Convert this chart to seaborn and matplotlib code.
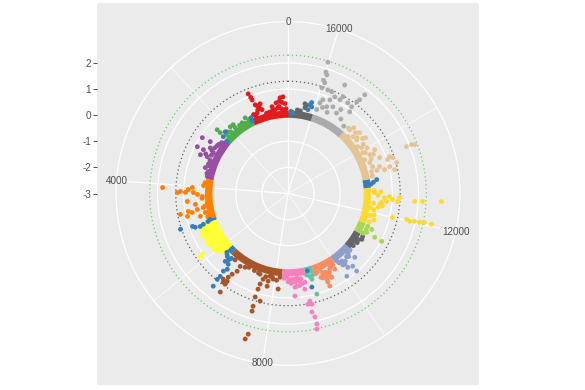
import numpy as np
import pandas as pd
import matplotlib
matplotlib.use("Agg")
import matplotlib.pyplot as plt
import seaborn as sns

# ---- data (position along the circle, score) ----
TOTAL = 16800          # length of the position axis (one full turn)
R_MIN, R_MAX = -3, 2.854
cutoffs = [1.3, 2.3]
theta_major = [0, 4000, 8000, 12000, 16000]
theta_minor = [2000, 6000, 10000, 14000]
r_breaks = [-3, -2, -1, 0, 1, 2]

# segments of the inner ring
seg_group = ["red", "green", "purple", "orange", "blue", "yellow", "blue", "brown", "pink",
             "teal", "salmon", "lightblue", "darkgray", "lightgreen", "gold", "blue", "tan",
             "gray", "darkgray"]
seg_start = [0, 1213, 2333, 3733, 5040, 5133, 6207, 6393, 8213, 8960, 9240, 9987, 10663,
             11247, 11620, 12787, 13067, 14840, 15983]
seg_end = [1213, 2333, 3733, 5040, 5133, 6207, 6393, 8213, 8960, 9240, 9987, 10663, 11247,
           11620, 12787, 13067, 14840, 15983, 16800]

colors = {"red": "#E41A1C", "green": "#4DAF4A", "purple": "#984EA3", "orange": "#FF7F00",
          "blue": "#377EB8", "yellow": "#FFFF33", "brown": "#A65628", "pink": "#F781BF",
          "teal": "#66C2A5", "salmon": "#FC8D62", "lightblue": "#8DA0CB", "darkgray": "#666666",
          "lightgreen": "#A6D854", "gold": "#FFD92F", "tan": "#E5C494", "gray": "#ABABAB"}

red_pos = [140, 222, 90, 350, 275, 486, 803, 807, 947, 980, 1017, 980, 600, 420, 1100, 60,
           990, 900, 860, 930, 260, 180, 320, 200, 1050, 700, 500, 150]
red_val = [0.71, 0.68, 0.45, 0.50, 0.35, 0.38, 0.36, 0.60, 0.62, 0.84, 1.11, 0.30, 0.20, 0.25,
           0.30, 0.25, 0.95, 0.55, 0.45, 0.40, 0.55, 0.50, 0.30, 0.25, 0.22, 0.18, 0.22, 0.20]
green_pos = [2240, 2245, 2077, 1800, 1810, 1540, 1377, 1908, 1650, 1450, 2000, 2150, 1300]
green_val = [0.65, 0.49, 0.32, 0.37, 0.23, 0.23, 0.33, 0.38, 0.20, 0.15, 0.22, 0.25, 0.20]
purple_pos = [2656, 2926, 2921, 3085, 3057, 2861, 3164, 3388, 3481, 3640, 2609, 2627, 2780,
              3250, 3000, 2450, 2550, 2700, 2820, 2960, 3120, 3300, 3550]
purple_val = [0.92, 0.91, 0.65, 0.67, 0.40, 0.26, 0.13, 0.32, 0.17, 0.16, 0.27, 0.58, 0.45,
              0.25, 0.50, 0.20, 0.25, 0.30, 0.35, 0.28, 0.25, 0.22, 0.20]
orange_pos = [4074, 4177, 4149, 4172, 4093, 4032, 4172, 4228, 4293, 4676, 4723, 4667, 4639,
              4713, 4797, 4881, 4803, 4496, 4410, 4513, 3850, 3950, 4350, 4600, 4950]
orange_val = [1.81, 1.24, 1.12, 0.93, 0.82, 0.67, 0.63, 0.47, 0.28, 0.88, 0.74, 0.53, 0.29,
              1.20, 0.95, 0.47, 0.25, 0.11, 0.87, 0.57, 0.20, 0.25, 0.30, 0.22, 0.20]
yellow_pos = [5180, 5220, 5260, 5300, 5340, 5380, 5420, 5460, 5500, 5540, 5580, 5620, 5660,
              5700, 5740, 5780, 5820, 5848, 5880, 5900, 5950, 6000, 6050, 6100, 6150, 5200,
              5350, 5500, 5650, 5800, 5950, 6100, 5260, 5420, 5560, 5700, 5320, 5480, 5600,
              5760, 5860, 5990, 5240, 5400, 5520, 5680, 5830]
yellow_val = [0.30, 0.45, 0.40, 0.55, 0.35, 0.50, 0.45, 0.60, 0.40, 0.55, 0.30, 0.60, 0.50,
              0.40, 0.62, 0.50, 0.35, 1.02, 1.15, 0.55, 0.45, 0.50, 0.30, 0.40, 0.25, 0.15,
              0.20, 0.20, 0.20, 0.15, 0.20, 0.12, 0.60, 0.65, 0.55, 0.45, 0.42, 0.35, 0.45,
              0.30, 0.45, 0.35, 0.25, 0.28, 0.30, 0.28, 0.25]
blue_pos = [1213, 1230, 2123, 2273, 2315, 5087, 5133, 5161, 5133, 5059, 5060, 5100, 6403, 6524,
            6594, 6543, 6566, 6585, 6557, 6250, 6300, 9068, 9053, 13017, 12900, 12950, 16152,
            16082, 16177, 16120, 16650, 16700, 6350, 6450, 6480]
blue_val = [0.23, 0.10, 0.37, 0.30, 0.06, 0.87, 0.78, 0.59, 0.45, 1.34, 0.15, 0.25, 0.54, 0.55,
            0.72, 0.87, 1.10, 1.56, 1.26, 0.25, 0.30, 0.70, 0.05, 0.44, 0.20, 0.30, 0.50, 0.44,
            0.30, 0.60, 0.10, 0.15, 0.35, 0.40, 0.30]
brown_pos = [6846, 6991, 6851, 6781, 6743, 6669, 6781, 6715, 6781, 6790, 7509, 7644, 7602, 7588,
             7830, 7803, 7938, 8125, 7808, 7579, 7723, 7597, 7607, 7663, 7635, 8148, 7100,
             7300, 7450, 7700, 7900, 8050, 6600]
brown_val = [0.34, 0.27, 0.56, 0.76, 0.94, 1.11, 1.09, 1.21, 1.22, 1.58, 0.27, 0.42, 0.63, 0.84,
             0.24, 0.44, 0.33, 0.68, 0.64, 1.16, 1.26, 1.52, 1.71, 2.60, 2.81, 0.22, 0.20,
             0.22, 0.25, 0.30, 0.25, 0.35, 0.25]
pink_pos = [8554, 8657, 8764, 8867, 8937, 8969, 8876, 8932, 8974, 8983, 8960, 8582, 8904, 8450,
            8700, 8820, 8600, 8350, 8500, 8620, 8740, 8800, 8680, 8400, 8280]
pink_val = [0.29, 0.57, 0.39, 0.72, 1.21, 1.34, 1.31, 1.63, 1.84, 2.12, 2.31, 0.94, 0.46, 0.30,
            0.35, 0.50, 0.60, 0.20, 0.45, 0.40, 0.55, 0.30, 0.25, 0.38, 0.25]
teal_pos = [9128, 9147, 9000, 9200, 9100]
teal_val = [0.41, 1.01, 0.20, 0.25, 0.30]
salmon_pos = [9464, 9492, 9539, 9534, 9688, 9530, 9879, 9600, 9750, 9350, 9800, 9400, 9650,
              9300, 9450, 9580, 9700, 9900, 9500]
salmon_val = [0.15, 0.37, 0.60, 0.89, 0.62, 0.72, 0.41, 0.35, 0.30, 0.20, 0.25, 0.45, 0.50,
              0.25, 0.50, 0.45, 0.40, 0.22, 0.30]
lightblue_pos = [10073, 10197, 10213, 10220, 10346, 10337, 10052, 10560, 10400, 10150, 10500,
                 10280, 10450, 10620, 10100]
lightblue_val = [0.20, 0.31, 0.47, 0.64, 0.73, 0.97, 0.89, 0.54, 0.30, 0.45, 0.25, 0.40, 0.35,
                 0.22, 0.30]
darkgray_pos = [11113, 10800, 10950, 11200, 16278, 16250, 16300, 16400, 11050, 16500]
darkgray_val = [0.33, 0.20, 0.25, 0.30, 0.35, 0.45, 0.50, 0.20, 0.22, 0.22]
lightgreen_pos = [11374, 11350, 11336, 11518, 11450, 11300, 11560]
lightgreen_val = [0.36, 0.72, 1.03, 0.49, 0.30, 0.25, 0.30]
gold_pos = [12630, 12281, 12386, 12521, 12446, 12404, 12507, 12432, 12441, 12460, 11998, 12026,
            11998, 12021, 12021, 12040, 12035, 11700, 11800, 11900, 12100, 12200, 12300, 12550,
            12700, 12650, 12150, 11950, 12250, 12350, 12480]
gold_val = [0.32, 0.54, 0.79, 0.89, 1.01, 1.21, 1.28, 1.86, 2.16, 2.89, 1.11, 1.65, 1.78, 1.96,
            2.16, 2.34, 2.62, 0.30, 0.45, 0.25, 0.35, 0.50, 0.30, 0.45, 0.30, 0.55, 0.20, 0.40,
            0.65, 0.60, 0.70]
tan_pos = [13608, 13608, 13585, 13529, 13482, 13478, 13342, 13291, 13188, 13249, 13366, 13281,
           13286, 14800, 14742, 14630, 14523, 14373, 14182, 14089, 13939, 13786, 13711, 13566,
           13851, 13599, 14481, 14266, 14700, 13150, 13420, 13650, 14000, 14150, 14300, 14420,
           14560, 13900, 13750]
tan_val = [1.88, 2.09, 2.20, 1.14, 1.24, 1.03, 1.33, 1.03, 1.19, 0.81, 0.66, 0.52, 0.31, 0.41,
           0.40, 0.16, 0.30, 0.34, 0.22, 0.33, 0.26, 0.47, 0.21, 0.35, 0.72, 0.77, 0.60, 0.66,
           0.56, 0.30, 0.40, 0.45, 0.50, 0.45, 0.55, 0.40, 0.48, 0.35, 0.60]
gray_pos = [16011, 15990, 15955, 15990, 15943, 15971, 15817, 15713, 15592, 15676, 15849, 15895,
            15676, 15522, 15447, 15512, 15419, 15242, 15107, 15078, 15055, 15069, 15032, 14950,
            15150, 15350, 15600, 15780, 15920, 15300]
gray_val = [2.26, 1.87, 1.78, 1.55, 1.47, 1.25, 1.25, 1.24, 1.11, 0.93, 0.83, 0.68, 0.64, 0.74,
            1.10, 1.69, 1.26, 1.16, 1.12, 1.39, 1.52, 0.92, 1.79, 0.35, 0.50, 0.60, 0.45, 0.55,
            0.40, 0.80]


def to_theta(pos):
    return np.asarray(pos, dtype=float) / TOTAL * 2 * np.pi


groups = {"red": (red_pos, red_val), "green": (green_pos, green_val),
          "purple": (purple_pos, purple_val), "orange": (orange_pos, orange_val),
          "yellow": (yellow_pos, yellow_val), "brown": (brown_pos, brown_val),
          "pink": (pink_pos, pink_val), "teal": (teal_pos, teal_val),
          "salmon": (salmon_pos, salmon_val), "lightblue": (lightblue_pos, lightblue_val),
          "darkgray": (darkgray_pos, darkgray_val), "lightgreen": (lightgreen_pos, lightgreen_val),
          "gold": (gold_pos, gold_val), "tan": (tan_pos, tan_val), "gray": (gray_pos, gray_val),
          "blue": (blue_pos, blue_val)}
pts = pd.concat([pd.DataFrame({"pos": p, "score": v, "group": g}) for g, (p, v) in groups.items()],
                ignore_index=True)
pts["theta"] = to_theta(pts["pos"])

ring = pd.DataFrame({"group": seg_group, "start": seg_start, "end": seg_end})

# ---- layout (ggplot-like polar panel) ----
plt.rcParams["font.family"] = ["Liberation Sans", "DejaVu Sans"]
W, H = 585, 390
px, py, ps = 97, 2.5, 382
fig = plt.figure(figsize=(W / 100, H / 100), dpi=100)

bg = fig.add_axes([px / W, (H - py - ps) / H, ps / W, ps / H])
bg.set_facecolor("#EBEBEB")
half = 0.5 / 0.4 * (R_MAX - R_MIN)
bg.set_xlim(-1, 1)
bg.set_ylim(R_MIN - half, R_MIN + half)
bg.set_xticks([])
bg.set_yticks(r_breaks)
bg.set_yticklabels([str(b) for b in r_breaks])
bg.tick_params(axis="y", length=2.8, width=0.6, color="#333333", labelcolor="#4D4D4D",
               labelsize=7.1, pad=1.5)
for s in bg.spines.values():
    s.set_visible(False)

rad = 0.45 * ps
cx, cy = px + ps / 2, py + ps / 2
ax = fig.add_axes([(cx - rad) / W, (H - cy - rad) / H, 2 * rad / W, 2 * rad / H],
                  projection="polar")
ax.set_facecolor("none")
ax.set_theta_zero_location("N")
ax.set_theta_direction(1)

# inner ring (dense band of low scores)
ax.bar(to_theta((ring["start"] + ring["end"]) / 2), 0.28,
       width=to_theta(ring["end"] - ring["start"]), bottom=-0.1,
       color=[colors[g] for g in ring["group"]], edgecolor="none", zorder=2)

sns.scatterplot(data=pts, x="theta", y="score", hue="group", palette=colors, s=12,
                linewidth=0, legend=False, ax=ax, zorder=3)

circ = np.linspace(0, 2 * np.pi, 721)
ax.plot(circ, np.full_like(circ, cutoffs[0]), color="#5A5A5A", lw=0.9, ls=(0, (1, 2.2)), zorder=2.5)
ax.plot(circ, np.full_like(circ, cutoffs[1]), color="#6CCB6C", lw=0.9, ls=(0, (1, 2.2)), zorder=2.5)

r_top = R_MIN + 0.45 / 0.4 * (R_MAX - R_MIN)
ax.set_ylim(R_MIN, r_top)
ax.set_xlim(0, 2 * np.pi)
ax.set_yticks(r_breaks[1:])
ax.set_yticklabels([])
ax.set_xticks(to_theta(theta_major))
ax.set_xticklabels([])
ax.set_xticks(to_theta(theta_minor), minor=True)
ax.tick_params(which="both", length=0)
ax.grid(True, which="major", color="white", lw=0.9, zorder=0)
ax.xaxis.grid(True, which="minor", color="white", lw=0.5)
ax.set_axisbelow(True)
ax.spines["polar"].set_color("white")
ax.spines["polar"].set_linewidth(0.9)
ax.set_xlabel("")
ax.set_ylabel("")

for t in theta_major:
    ax.text(to_theta(t), r_top, str(t), ha="center", va="center", fontsize=7.1,
            color="#4D4D4D", clip_on=False)

fig.savefig("out.png", dpi=100)
